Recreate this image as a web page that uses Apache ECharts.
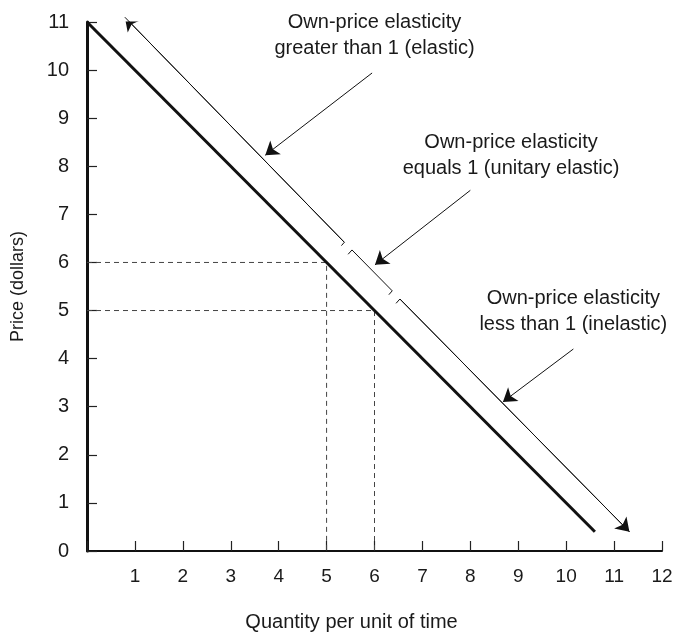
<!DOCTYPE html>
<html><head><meta charset="utf-8">
<script src="https://cdn.jsdelivr.net/npm/echarts@6/dist/echarts.min.js"></script>
<style>html,body{margin:0;padding:0;background:#fff}#c{width:677px;height:632px}</style>
</head><body><div id="c"></div>
<script>
// Axis ranges / tick values
const xTicks = [0,1,2,3,4,5,6,7,8,9,10,11,12];
const yTicks = [0,1,2,3,4,5,6,7,8,9,10,11];
// Demand curve P = 11 - Q (drawn to about Q = 10.6)
const demandLine = [[0, 11], [10.6, 0.4]];
// Dashed guide lines at (5,6) and (6,5)
const guideA = [[0, 6], [5, 6], [5, 0]];
const guideB = [[0, 5], [6, 5], [6, 0]];
// Parallel bracket line (three elasticity regions)
const elasticSeg = [[0.79, 11.1], [5.37, 6.42], [5.31, 6.35]];
const unitarySeg = [[5.45, 6.17], [5.53, 6.26], [6.37, 5.41], [6.30, 5.33]];
const inelasticSeg = [[6.45, 5.15], [6.53, 5.24], [11.32, 0.40]];
// Annotation arrows [from, to]
const pointerArrows = [
  [[5.95, 9.94], [3.72, 8.23]],
  [[8.0, 7.5], [6.01, 5.95]],
  [[10.15, 4.2], [8.68, 3.1]]
];
// Annotation texts with anchor (centre) values
const annotations = [
  {value: [6.0, 10.73], text: 'Own-price elasticity\ngreater than 1 (elastic)'},
  {value: [8.85, 8.23], text: 'Own-price elasticity\nequals 1 (unitary elastic)'},
  {value: [10.15, 4.99], text: 'Own-price elasticity\nless than 1 (inelastic)'}
];

const FONT = '"Liberation Sans", Arial, Helvetica, sans-serif';
const INK = '#111';
const TXT = '#1a1a1a';
const chart = echarts.init(document.getElementById('c'), null, {renderer: 'canvas'});

const plainLine = (data, width, extra) => Object.assign({
  type: 'line', data: data, symbol: 'none', clip: false, silent: true,
  lineStyle: {color: INK, width: width}, z: 3
}, extra || {});

chart.setOption({
  animation: false,
  backgroundColor: '#fff',
  textStyle: {fontFamily: FONT},
  grid: {left: 87, right: 15, top: 22, bottom: 81, containLabel: false, outerBoundsMode: 'none'},
  xAxis: {
    type: 'value', min: xTicks[0], max: xTicks[xTicks.length - 1], interval: 1,
    axisLine: {show: true, onZero: false, lineStyle: {color: INK, width: 2}},
    axisTick: {show: true, inside: true, length: 10, lineStyle: {color: '#222', width: 1.2}},
    axisLabel: {margin: 16, fontSize: 19, color: TXT, fontFamily: FONT,
      formatter: v => (v === 0 ? '' : String(v))},
    splitLine: {show: false},
    name: 'Quantity per unit of time', nameLocation: 'middle', nameGap: 61,
    nameTextStyle: {fontSize: 20, color: TXT, fontFamily: FONT, padding: [0, 46, 0, 0]}
  },
  yAxis: {
    type: 'value', min: yTicks[0], max: yTicks[yTicks.length - 1], interval: 1,
    axisLine: {show: true, onZero: false, lineStyle: {color: INK, width: 3}},
    axisTick: {show: true, inside: true, length: 10, lineStyle: {color: '#222', width: 1.2}},
    axisLabel: {margin: 18, fontSize: 20, color: TXT, fontFamily: FONT},
    splitLine: {show: false},
    name: 'Price (dollars)', nameLocation: 'middle', nameGap: 60,
    nameTextStyle: {fontSize: 18, color: TXT, fontFamily: FONT}
  },
  series: [
    plainLine(guideA, 1, {lineStyle: {color: '#444', width: 1, type: [5, 4]}}),
    plainLine(guideB, 1, {lineStyle: {color: '#444', width: 1, type: [5, 4]}}),
    plainLine(demandLine, 3),
    plainLine(elasticSeg, 1),
    plainLine(unitarySeg, 1),
    plainLine(inelasticSeg, 1),
    {
      type: 'lines', coordinateSystem: 'cartesian2d', silent: true, z: 4,
      symbol: ['none', 'arrow'], symbolSize: [8, 13],
      lineStyle: {color: INK, width: 1, opacity: 1},
      data: [
        {coords: [elasticSeg[1], elasticSeg[0]]},
        {coords: [inelasticSeg[1], inelasticSeg[2]]}
      ].concat(pointerArrows.map(a => ({coords: a})))
    },
    {
      type: 'scatter', symbolSize: 1, silent: true, clip: false, z: 5,
      itemStyle: {opacity: 0, color: '#fff'},
      emphasis: {disabled: true},
      data: annotations.map(a => ({value: a.value, text: a.text})),
      label: {
        show: true, position: 'inside', formatter: p => p.data.text, opacity: 1,
        fontSize: 20, lineHeight: 26, color: TXT, fontFamily: FONT, align: 'center',
        verticalAlign: 'middle', textBorderWidth: 0
      }
    }
  ]
});
</script>
</body></html>
